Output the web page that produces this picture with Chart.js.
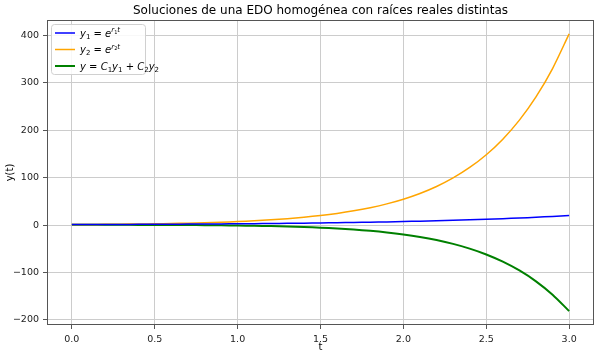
<!DOCTYPE html>
<html>
<head>
<meta charset="utf-8">
<script src="https://cdn.jsdelivr.net/npm/chart.js@4"></script>
<style>
  body { margin: 0; background: #fff; }
  #wrap { width: 600px; height: 357px; }
</style>
</head>
<body>
<div id="wrap"><canvas id="lineChart"></canvas></div>
<script>
// t values (0 .. 3, step 0.1) and the three curves
const tVals = [0.0,0.1,0.2,0.3,0.4,0.5,0.6,0.7,0.8,0.9,1.0,1.1,1.2,1.3,1.4,1.5,1.6,1.7,1.8,1.9,2.0,2.1,2.2,2.3,2.4,2.5,2.6,2.7,2.8,2.9,3.0];
const y1Vals = [1.00,1.11,1.22,1.35,1.49,1.65,1.82,2.01,2.23,2.46,2.72,3.00,3.32,3.67,4.06,4.48,4.95,5.47,6.05,6.69,7.39,8.17,9.03,9.97,11.02,12.18,13.46,14.88,16.44,18.17,20.09];
const y2Vals = [1.00,1.22,1.49,1.82,2.23,2.72,3.32,4.06,4.95,6.05,7.39,9.03,11.02,13.46,16.44,20.09,24.53,29.96,36.60,44.70,54.60,66.69,81.45,99.48,121.51,148.41,181.27,221.41,270.43,330.30,403.43];
const yVals = [0.50,0.49,0.48,0.44,0.38,0.29,0.16,-0.01,-0.25,-0.57,-0.98,-1.51,-2.19,-3.06,-4.17,-5.56,-7.31,-9.51,-12.25,-15.66,-19.91,-25.18,-31.70,-39.77,-49.73,-62.02,-77.17,-95.82,-118.77,-146.98,-181.63];

const xTicks = [0.0,0.5,1.0,1.5,2.0,2.5,3.0];
const yTicks = [-200,-100,0,100,200,300,400];

const titleText = 'Soluciones de una EDO homogénea con raíces reales distintas';
const xLabel = 't';
const yLabel = 'y(t)';

// legend labels as mathtext-like pieces: [text, style]
const legendItems = [
  { color: '#0000ff', parts: [['y','i'],['1','sub'],[' = ','n'],['e','i'],['r','supi'],['1','supsub'],['t','supi']] },
  { color: '#ffa500', parts: [['y','i'],['2','sub'],[' = ','n'],['e','i'],['r','supi'],['2','supsub'],['t','supi']] },
  { color: '#008000', parts: [['y','i'],[' = ','n'],['C','i'],['1','sub'],['y','i'],['1','sub'],[' + ','n'],['C','i'],['2','sub'],['y','i'],['2','sub']] }
];

const FONT = 'DejaVu Sans';
const SPINE = '#555';

function pts(ys) {
  return tVals.map((t, i) => ({ x: t, y: ys[i] }));
}

const framePlugin = {
  id: 'frame',
  afterDraw(chart) {
    const ctx = chart.ctx;
    const a = chart.chartArea;
    ctx.save();
    // axes box
    ctx.strokeStyle = SPINE;
    ctx.lineWidth = 1;
    ctx.strokeRect(a.left + 0.5, a.top + 0.5, a.right - a.left - 1, a.bottom - a.top - 1);

    // title + axis labels
    ctx.fillStyle = '#000';
    ctx.textAlign = 'center';
    ctx.textBaseline = 'middle';
    ctx.font = '12px ' + FONT;
    ctx.fillText(titleText, (a.left + a.right) / 2, 11);
    ctx.font = '10px ' + FONT;
    ctx.fillText(xLabel, (a.left + a.right) / 2, 347);
    ctx.save();
    ctx.translate(10, (a.top + a.bottom) / 2);
    ctx.rotate(-Math.PI / 2);
    ctx.fillText(yLabel, 0, 0);
    ctx.restore();

    // legend box
    const bx = 51, by = 24, bw = 94, bh = 50;
    ctx.fillStyle = 'rgba(255,255,255,0.85)';
    ctx.strokeStyle = '#d0d0d0';
    ctx.beginPath();
    ctx.roundRect(bx + 0.5, by + 0.5, bw, bh, 3);
    ctx.fill();
    ctx.stroke();

    legendItems.forEach((item, i) => {
      const ly = by + 9 + i * 16.5;
      ctx.strokeStyle = item.color;
      ctx.lineWidth = i === 2 ? 2 : 1.5;
      ctx.beginPath();
      ctx.moveTo(55, ly);
      ctx.lineTo(75, ly);
      ctx.stroke();
      let x = 80;
      ctx.fillStyle = '#000';
      ctx.textAlign = 'left';
      ctx.textBaseline = 'alphabetic';
      const base = ly + 3.5;
      item.parts.forEach(([txt, st]) => {
        let f = '10px ' + FONT, dy = 0;
        if (st === 'i') f = 'italic 10px ' + FONT;
        if (st === 'sub') { f = '7px ' + FONT; dy = 2; }
        if (st === 'supi') { f = 'italic 7px ' + FONT; dy = -4.5; }
        if (st === 'supsub') { f = '5px ' + FONT; dy = -3; }
        ctx.font = f;
        ctx.fillText(txt, x, base + dy);
        x += ctx.measureText(txt).width;
      });
    });
    ctx.restore();
  }
};

const lineChart = new Chart(document.getElementById('lineChart'), {
  type: 'line',
  data: {
    datasets: [
      { label: 'y₁ = e^(r₁t)', data: pts(y1Vals), borderColor: '#0000ff', borderWidth: 1.5, pointRadius: 0, tension: 0.3 },
      { label: 'y₂ = e^(r₂t)', data: pts(y2Vals), borderColor: '#ffa500', borderWidth: 1.5, pointRadius: 0, tension: 0.3 },
      { label: 'y = C₁y₁ + C₂y₂', data: pts(yVals), borderColor: '#008000', borderWidth: 2, pointRadius: 0, tension: 0.3 }
    ]
  },
  options: {
    responsive: true,
    maintainAspectRatio: false,
    animation: false,
    layout: { padding: { left: 0, right: 6, top: 20, bottom: 0 } },
    plugins: {
      legend: { display: false },
      title: { display: false },
      tooltip: { enabled: false }
    },
    scales: {
      x: {
        type: 'linear',
        min: -0.15,
        max: 3.15,
        afterFit(scale) { scale.height = 32; },
        afterBuildTicks(scale) { scale.ticks = xTicks.map(v => ({ value: v })); },
        grid: { color: '#cccccc', tickColor: SPINE, tickLength: 4 },
        border: { display: false },
        ticks: { color: '#222', font: { family: FONT, size: 9.5 }, padding: 5, maxRotation: 0,
                 callback: v => v.toFixed(1) }
      },
      y: {
        min: -210.9,
        max: 432.7,
        afterFit(scale) { scale.width = 47; },
        afterBuildTicks(scale) { scale.ticks = yTicks.map(v => ({ value: v })); },
        grid: { color: '#cccccc', tickColor: SPINE, tickLength: 4 },
        border: { display: false },
        ticks: { color: '#222', font: { family: FONT, size: 9.5 }, padding: 4,
                 callback: v => (v < 0 ? '\u2212' + Math.abs(v) : String(v)) }
      }
    }
  },
  plugins: [framePlugin]
});
</script>
</body>
</html>
